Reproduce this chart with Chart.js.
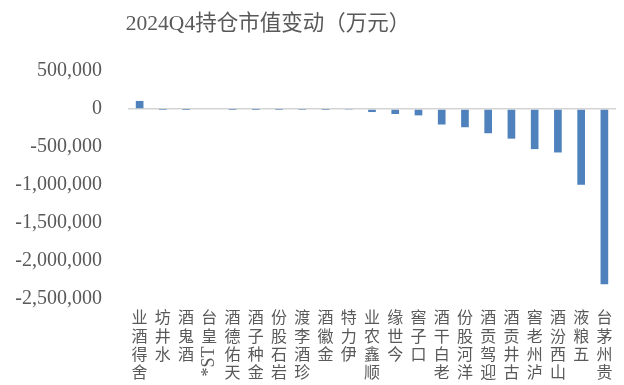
<!DOCTYPE html>
<html>
<head>
<meta charset="utf-8">
<script src="https://cdn.jsdelivr.net/npm/chart.js@4/dist/chart.umd.min.js"></script>
<style>
    html, body {margin: 0; padding: 0; background: #fff;}
    #box {width: 624px; height: 385px;}
</style>
</head>
<body>
<div id="box"><canvas id="chart"></canvas></div>
<script>
const titleText = '2024Q4持仓市值变动（万元）';
const categories = ['舍得酒业', '水井坊', '酒鬼酒', '*ST皇台', '天佑德酒', '金种子酒', '岩石股份', '珍酒李渡', '金徽酒', '伊力特',
    '顺鑫农业', '今世缘', '口子窖', '老白干酒', '洋河股份', '迎驾贡酒', '古井贡酒', '泸州老窖', '山西汾酒', '五粮液', '贵州茅台'];
const changes = [106000, -2000, -1000, 0, -1500, -1000, -2000, -3000, -2000, -6000,
    -40000, -66000, -84000, -204000, -240000, -319000, -390000, -528000, -572000, -997000, -2305000];
const yTicks = [500000, 0, -500000, -1000000, -1500000, -2000000, -2500000];

const textColor = '#595959';
const serif = '"Liberation Serif", "Times New Roman", serif';
const cjk = '"Noto Sans CJK SC", sans-serif';

// title is not centred on the canvas in the original, so draw it by hand
const titlePlugin = {
    id: 'titleText',
    afterDraw(chart) {
        const ctx = chart.ctx;
        ctx.save();
        ctx.fillStyle = textColor;
        ctx.font = '21.5px ' + serif + ', ' + cjk;
        ctx.textAlign = 'center';
        ctx.textBaseline = 'middle';
        ctx.fillText(titleText, 268, 24);
        ctx.restore();
    }
};

// vertical category labels: upright CJK characters stacked, latin runs turned sideways
const vLabels = {
    id: 'vLabels',
    afterDraw(chart) {
        const ctx = chart.ctx;
        const xs = chart.scales.x;
        const top0 = chart.chartArea.bottom + 9;
        const pitch = 18.3;
        ctx.save();
        ctx.fillStyle = textColor;
        ctx.textAlign = 'center';
        ctx.textBaseline = 'middle';
        categories.forEach((name, i) => {
            const x = xs.getPixelForValue(i);
            const parts = name.match(/[\x00-\x7f]+|[^\x00-\x7f]/g).reverse();
            let top = top0;
            parts.forEach(p => {
                if (/^[\x00-\x7f]+$/.test(p)) {
                    ctx.font = '18px ' + serif;
                    const w = ctx.measureText(p).width;
                    ctx.save();
                    ctx.translate(x, top + w / 2 + 2);
                    ctx.rotate(-Math.PI / 2);
                    ctx.fillText(p, 0, 0);
                    ctx.restore();
                    top += w + 4;
                } else {
                    ctx.font = '16px ' + cjk;
                    ctx.fillText(p, x, top + pitch / 2);
                    top += pitch;
                }
            });
        });
        ctx.restore();
    }
};

new Chart(document.getElementById('chart'), {
    type: 'bar',
    data: {
        labels: categories,
        datasets: [{
            data: changes,
            backgroundColor: '#4f81bd',
            borderWidth: 0,
            categoryPercentage: 1,
            barPercentage: 0.33
        }]
    },
    options: {
        responsive: true,
        maintainAspectRatio: false,
        animation: false,
        layout: {
            padding: {top: 71, right: 8, bottom: 86, left: 0}
        },
        plugins: {
            legend: {display: false},
            title: {display: false},
            tooltip: {enabled: false}
        },
        scales: {
            x: {
                display: false
            },
            y: {
                min: -2500000,
                max: 500000,
                afterFit(scale) {
                    scale.width = 128;
                },
                afterBuildTicks(scale) {
                    scale.ticks = yTicks.map(v => ({value: v}));
                },
                border: {display: false},
                grid: {
                    drawTicks: false,
                    color: c => c.tick && c.tick.value === 0 ? '#d4d4d4' : 'rgba(0,0,0,0)',
                    lineWidth: 1.5
                },
                ticks: {
                    padding: 26,
                    color: textColor,
                    font: {family: serif, size: 20},
                    callback: v => v.toLocaleString('en-US')
                }
            }
        }
    },
    plugins: [titlePlugin, vLabels]
});
</script>
</body>
</html>
